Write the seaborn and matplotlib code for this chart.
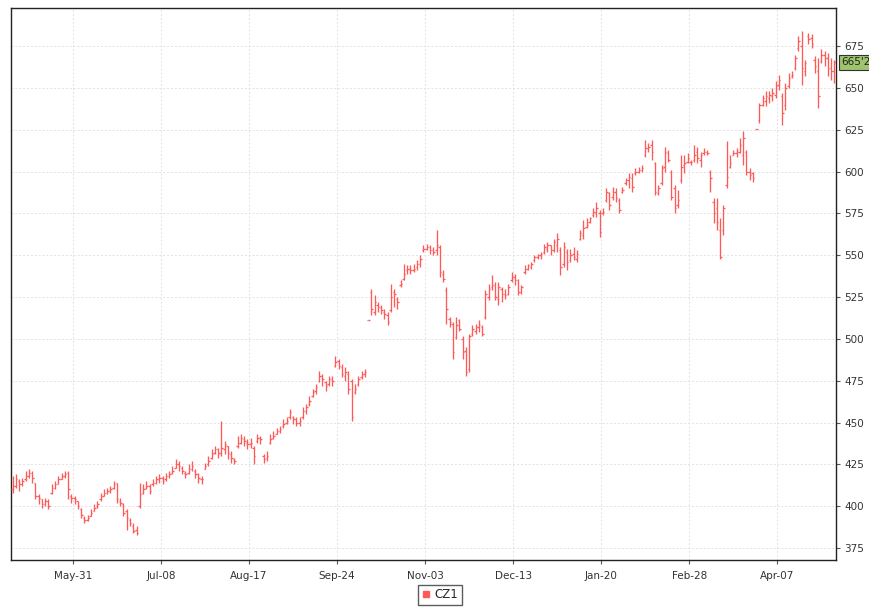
import matplotlib
matplotlib.use("Agg")
import matplotlib.pyplot as plt
from matplotlib.lines import Line2D
import seaborn as sns
import numpy as np

# Daily OHLC prices for CZ1 (cents per bushel), one row per 10 sessions
opens = [
    410, 412, 415, 413, 416, 418, 420, 414, 406, 404,
    401, 403, 408, 411, 413, 416, 418, 420, 406, 405,
    403, 398, 393, 392, 394, 397, 400, 404, 406, 408,
    409, 411, 414, 403, 401, 397, 392, 388, 386, 400,
    408, 411, 412, 413, 414, 416, 417, 416, 418, 420,
    423, 425, 423, 420, 420, 422, 421, 419, 416, 422,
    425, 429, 432, 434, 432, 434, 436, 431, 428, 436,
    438, 440, 438, 437, 435, 439, 441, 430, 429, 438,
    441, 443, 445, 448, 450, 453, 453, 452, 450, 453,
    457, 461, 466, 469, 475, 478, 474, 473, 476, 484,
    487, 483, 478, 479, 475, 468, 473, 477, 479, 511.5,
    528, 516, 520, 519, 516, 514, 517, 528, 524, 532,
    536, 541, 542, 541, 543, 545, 553, 554, 555, 553,
    553, 555, 539, 529, 512, 509, 501, 511, 500, 493,
    482, 503, 505, 507, 507, 513, 525, 531, 532, 524,
    530, 527, 527, 535, 537, 535, 528, 540, 542, 543,
    547, 549, 550, 552, 554, 556, 553, 556, 553, 545,
    552, 547, 551, 548, 560, 562, 567, 570, 574, 575,
    575, 575, 583, 587, 585, 588, 583, 588, 593, 595,
    596, 599, 600, 601, 610, 614, 616, 605, 587, 593,
    603, 611, 600, 590, 580, 595, 604, 606, 606, 607,
    612, 607, 611, 612, 600, 582, 578, 565, 565, 592,
    603, 610, 611, 612, 610, 612, 600, 599, 625.5, 631,
    640, 642, 644, 645, 646, 652, 645, 640, 651, 657,
    662, 674, 675, 660, 681, 680, 667, 660, 666, 670,
    668, 662, 660,
]
highs = [
    418, 419, 416, 417, 421, 422, 421, 414, 407, 404,
    405, 404, 413, 415, 418, 420, 421, 421, 407, 406,
    403, 399, 394, 395, 398, 401, 403, 408, 410, 411,
    412, 415, 414, 405, 402, 398, 393, 390, 388, 414,
    413, 415, 413, 416, 418, 419, 418, 420, 421, 424,
    428, 427, 424, 421, 425, 427, 422, 420, 418, 426,
    430, 434, 436, 435, 451, 439, 436, 433, 429, 442,
    443, 442, 440, 441, 436, 443, 442, 431, 433, 443,
    445, 447, 448, 452, 453, 458, 454, 453, 453, 459,
    461, 466, 470, 473, 481, 479, 475, 478, 478, 490,
    488, 485, 483, 481, 476, 473, 478, 481, 482, 511.5,
    530, 526, 522, 520, 518, 516, 533, 530, 525, 535,
    545, 544, 544, 545, 547, 550, 556, 557, 556, 555,
    565, 556, 541, 531, 513, 510, 513, 512, 502, 495,
    503, 508, 509, 511, 508, 529, 533, 538, 534, 534,
    531, 530, 533, 540, 539, 536, 532, 544, 545, 546,
    550, 551, 552, 557, 558, 556, 560, 563, 555, 558,
    554, 554, 555, 553, 565, 571, 572, 573, 578, 582,
    577, 578, 590, 588, 591, 590, 584, 591, 596, 599,
    599, 602, 603, 604, 619, 617, 619, 606, 592, 604,
    615, 613, 601, 592, 589, 610, 610, 611, 607, 616,
    615, 612, 614, 613, 601, 584, 584, 572, 580, 618,
    610, 613, 614, 620, 624, 613, 602, 600, 625.5, 641,
    646, 648, 648, 650, 654, 658, 647, 653, 659, 660,
    670, 681, 684, 667, 683, 682, 669, 668, 673, 672,
    671, 668, 667,
]
lows = [
    408, 411, 409, 412, 415, 417, 414, 404, 401, 399,
    400, 398, 407, 410, 413, 416, 417, 404, 402, 401,
    398, 393, 390, 391, 394, 397, 399, 403, 406, 407,
    408, 410, 402, 400, 394, 386, 388, 384, 383, 399,
    407, 410, 407, 412, 413, 414, 413, 415, 417, 419,
    423, 421, 419, 417, 419, 421, 417, 414, 413, 422,
    424, 428, 431, 429, 430, 431, 428, 426, 425, 435,
    437, 436, 434, 435, 425, 438, 437, 426, 427, 437,
    440, 443, 444, 447, 449, 452, 449, 448, 448, 452,
    455, 460, 465, 467, 474, 472, 469, 472, 472, 483,
    482, 477, 475, 467, 451, 467, 472, 476, 477, 511.5,
    514, 514, 516, 515, 512, 508, 516, 519, 518, 531,
    535, 539, 539, 540, 541, 543, 552, 553, 551, 550,
    550, 537, 534, 509, 507, 488, 500, 505, 488, 478,
    480, 502, 503, 504, 502, 512, 523, 529, 523, 520,
    522, 524, 526, 534, 532, 526, 527, 539, 541, 542,
    546, 548, 548, 551, 552, 550, 552, 552, 538, 543,
    541, 546, 547, 546, 559, 560, 566, 569, 573, 573,
    561, 574, 582, 577, 583, 582, 575, 587, 592, 590,
    588, 598, 599, 600, 609, 612, 607, 586, 586, 592,
    600, 606, 583, 575, 578, 593, 599, 605, 604, 606,
    605, 603, 610, 610, 588, 569, 565, 548, 562, 590,
    602, 610, 609, 611, 604, 598, 595, 594, 625.5, 629,
    639, 639, 641, 642, 644, 649, 628, 637, 650, 656,
    661, 672, 652, 657, 676, 674, 659, 638, 665, 663,
    657, 655, 653,
]
closes = [
    412, 416, 413, 415, 418, 420, 417, 406, 405, 401,
    403, 400, 411, 413, 416, 418, 419, 410, 405, 404,
    400, 395, 392, 393, 396, 399, 401, 406, 408, 409,
    410, 413, 404, 402, 396, 393, 390, 385, 384, 407,
    410, 412, 409, 414, 416, 417, 415, 418, 419, 421,
    425, 424, 421, 419, 422, 424, 419, 417, 416, 424,
    427, 431, 434, 432, 435, 437, 432, 429, 427, 438,
    441, 439, 437, 438, 430, 441, 440, 428, 430, 440,
    442, 445, 446, 449, 451, 456, 452, 450, 451, 457,
    459, 463, 468, 471, 478, 476, 472, 476, 475, 486,
    484, 479, 480, 470, 453, 470, 476, 479, 480, 511.5,
    518, 522, 519, 517, 515, 510, 525, 527, 522, 533,
    539, 542, 541, 542, 545, 548, 554, 555, 553, 552,
    556, 540, 536, 518, 510, 492, 508, 506, 492, 480,
    502, 506, 507, 508, 503, 527, 530, 532, 525, 531,
    527, 526, 531, 537, 535, 528, 531, 542, 544, 545,
    549, 550, 551, 555, 556, 553, 558, 560, 543, 555,
    546, 550, 549, 551, 563, 566, 568, 572, 576, 578,
    564, 576, 588, 580, 588, 584, 577, 589, 595, 597,
    591, 600, 601, 602, 614, 615, 612, 588, 590, 602,
    612, 607, 585, 578, 583, 603, 605, 608, 606, 610,
    608, 610, 612, 611, 596, 575, 570, 549, 578, 597,
    605, 611, 612, 616, 620, 600, 598, 596, 625.5, 640,
    644, 645, 646, 647, 651, 655, 635, 650, 656, 658,
    668, 678, 662, 665, 679, 676, 663, 645, 670, 668,
    662, 660, 665.25,
]

# Session index of each labelled date on the time axis
tick_sessions = [19, 46, 73, 100, 127, 154, 181, 208, 235]
tick_labels = ["May-31", "Jul-08", "Aug-17", "Sep-24", "Nov-03",
               "Dec-13", "Jan-20", "Feb-28", "Apr-07"]
y_ticks = [375, 400, 425, 450, 475, 500, 525, 550, 575, 600, 625, 650, 675]
series_name = "CZ1"
last_label = "665'2"

sns.set_theme(style="white")
plt.rcParams["font.family"] = ["DejaVu Sans"]

bar_color = "#ff5a5a"
fig = plt.figure(figsize=(8.7, 6.08), dpi=100)
ax = fig.add_axes([11 / 870, 1 - 560 / 608, 825 / 870, 552 / 608])

o = np.array(opens, dtype=float)
h = np.array(highs, dtype=float)
l = np.array(lows, dtype=float)
c = np.array(closes, dtype=float)
x = np.arange(len(c))
tick_w = 0.45

ax.vlines(x, l, h, color=bar_color, linewidth=0.95, zorder=3)
ax.hlines(o, x - tick_w, x, color=bar_color, linewidth=0.95, zorder=3)
ax.hlines(c, x, x + tick_w, color=bar_color, linewidth=0.95, zorder=3)

ax.set_xlim(-0.5, len(c) - 0.5)
ax.set_ylim(367.8, 697.8)

ax.set_xticks(np.array(tick_sessions) - 0.5)
ax.set_xticklabels(tick_labels)
ax.set_yticks(y_ticks)
ax.yaxis.tick_right()
ax.tick_params(axis="both", which="both", direction="out", length=3,
               width=0.8, color="#555555", labelsize=7.5, labelcolor="#333333",
               pad=3)
ax.tick_params(axis="x", pad=5)
ax.tick_params(axis="y", left=False, right=True)
ax.tick_params(axis="x", bottom=True)

ax.grid(True, color="#e2e2e2", linestyle=(0, (2, 2)), linewidth=0.7)
for sp in ax.spines.values():
    sp.set_color("#222222")
    sp.set_linewidth(1.0)

# Last price tag on the value axis
ax.annotate(last_label, xy=(1.0, c[-1]), xycoords=("axes fraction", "data"),
            xytext=(4, 0), textcoords="offset points", va="center", ha="left",
            fontsize=7.5, color="#222222",
            bbox=dict(boxstyle="square,pad=0.2", facecolor="#9ec46e",
                      edgecolor="#333333", linewidth=0.8))

handle = Line2D([], [], linestyle="none", marker="s", markersize=5,
                markerfacecolor=bar_color, markeredgecolor=bar_color)
fig.legend([handle], [series_name], loc="center", bbox_to_anchor=(440 / 870, 1 - 595 / 608),
           frameon=True, fancybox=False, edgecolor="#333333", fontsize=8.5,
           handlelength=0.8, handletextpad=0.3, borderpad=0.3, borderaxespad=0)

fig.savefig("out.png", dpi=100, facecolor="white")
